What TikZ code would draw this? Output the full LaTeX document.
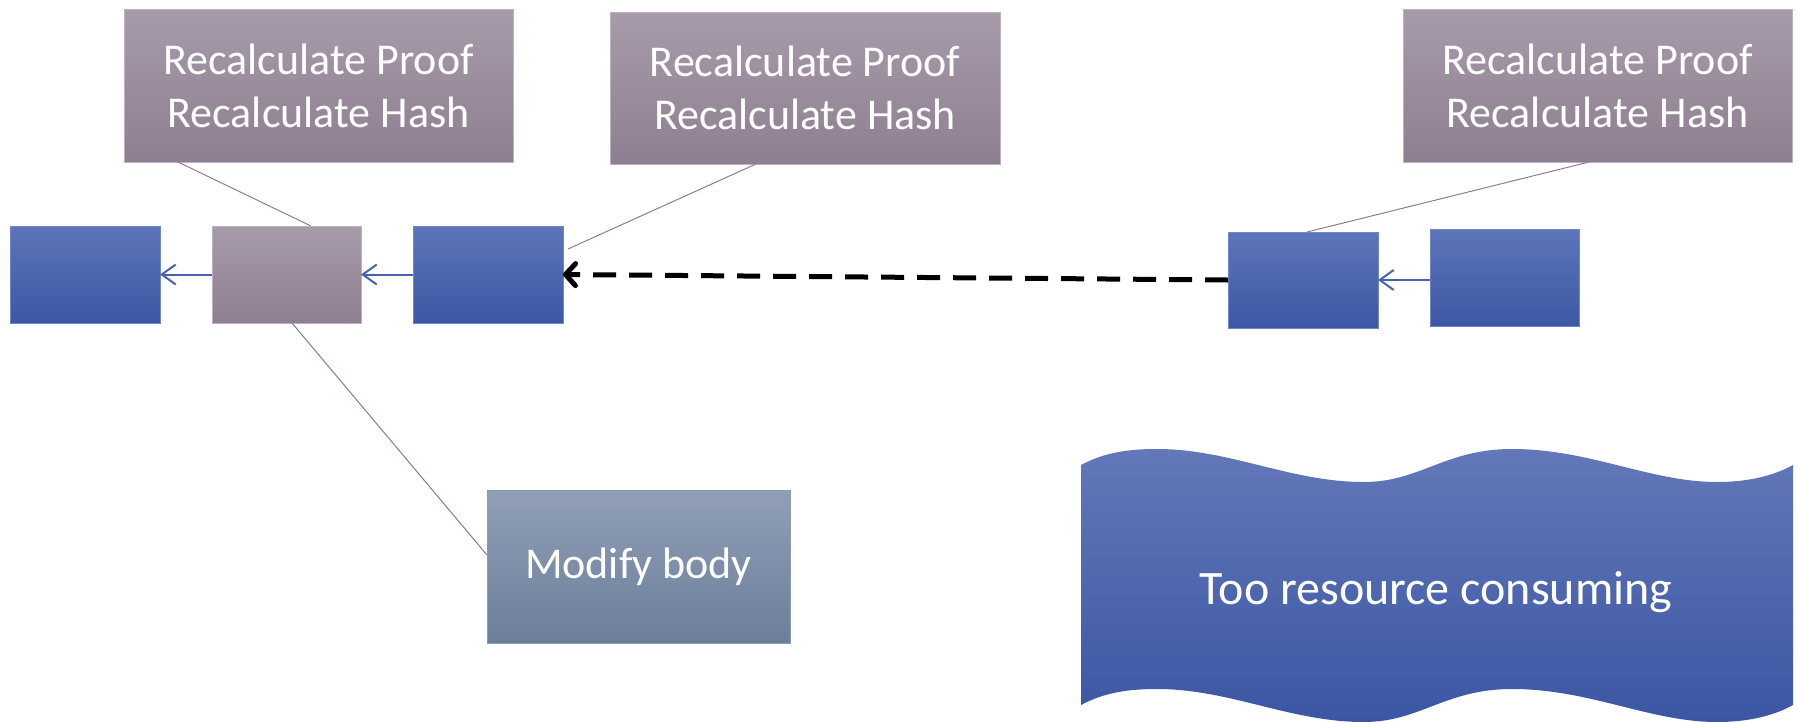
\documentclass[tikz,border=0pt]{standalone}
\usepackage{fontspec}
\setmainfont{Carlito}
\usetikzlibrary{arrows.meta}
\definecolor{mauveT}{HTML}{A79BAA}
\definecolor{mauveB}{HTML}{8E7E91}
\definecolor{mauveL}{HTML}{BDB3C0}
\definecolor{blueT}{HTML}{5D75B9}
\definecolor{blueB}{HTML}{3C58A4}
\definecolor{blueL}{HTML}{6F87C7}
\definecolor{modT}{HTML}{909FB7}
\definecolor{modB}{HTML}{6C7E9B}
\definecolor{modL}{HTML}{8C9BB5}
\definecolor{waveT}{HTML}{6378B9}
\definecolor{waveB}{HTML}{3B56A3}
\definecolor{calloutC}{HTML}{8C7F90}
\definecolor{modLine}{HTML}{6F82A3}
\definecolor{arrowC}{HTML}{4763AE}
\tikzset{
  base/.style={inner sep=0pt, outer sep=0pt, line width=1pt, text=white, align=center,
    font=\fontsize{44}{53}\selectfont},
  mauvebox/.style={base, draw=mauveL, top color=mauveT, bottom color=mauveB},
  bluebox/.style={base, draw=blueL, top color=blueT, bottom color=blueB},
  modbox/.style={base, draw=modL, top color=modT, bottom color=modB},
  callout/.style={draw=calloutC, line width=1pt},
  modcallout/.style={draw=modLine, line width=1pt},
  linkarrow/.style={draw=arrowC, line width=2pt, -{Straight Barb[length=14pt,width=20pt]}},
  dasharrow/.style={draw=black, line width=5pt, dash pattern=on 23pt off 13pt,
    -{Straight Barb[length=10pt,width=22pt,round]}},
}
\begin{document}
\begin{tikzpicture}[x=1pt,y=-1pt]
\useasboundingbox (0,0) rectangle (1797,721);
% callout boxes
\node[mauvebox, minimum width=389pt, minimum height=153pt] (box1) at (318.5,85.5) {Recalculate Proof\\Recalculate Hash};
\node[mauvebox, minimum width=390pt, minimum height=152pt] (box2) at (805,88) {Recalculate Proof\\Recalculate Hash};
\node[mauvebox, minimum width=389pt, minimum height=153pt] (box3) at (1597.5,85.5) {Recalculate Proof\\Recalculate Hash};
% chain blocks
\node[bluebox, minimum width=150pt, minimum height=97pt] (A) at (85,274.5) {};
\node[mauvebox, minimum width=149pt, minimum height=97pt] (B) at (286.5,274.5) {};
\node[bluebox, minimum width=150pt, minimum height=97pt] (C) at (488,274.5) {};
\node[bluebox, minimum width=150pt, minimum height=96pt] (D) at (1303,280) {};
\node[bluebox, minimum width=149pt, minimum height=97pt] (E) at (1504.5,277.5) {};
% modify body
\node[modbox, minimum width=303pt, minimum height=153pt] (mod) at (638.5,566.5) {Modify body};
% wave
\path[top color=waveT, bottom color=waveB]
  (1081,465) .. controls (1105,452) and (1130,449) .. (1157,449)
  .. controls (1230,449) and (1290,482) .. (1364,482)
  .. controls (1420,482) and (1445,449) .. (1512,449)
  .. controls (1590,449) and (1650,482) .. (1717,482)
  .. controls (1750,482) and (1775,475) .. (1793,465)
  -- (1793,705)
  .. controls (1775,715) and (1750,722) .. (1717,722)
  .. controls (1650,722) and (1590,689) .. (1512,689)
  .. controls (1445,689) and (1420,722) .. (1364,722)
  .. controls (1290,722) and (1230,689) .. (1157,689)
  .. controls (1130,689) and (1105,692) .. (1081,705)
  -- cycle;
\node[base, font=\fontsize{48}{56}\selectfont] (wave) at (1436,592) {Too resource consuming};
% callout lines
\draw[callout] ([xshift=54pt]box1.south west) -- ([xshift=99pt]B.north west);
\draw[callout] ([xshift=146pt]box2.south west) -- ([xshift=5pt,yshift=-23pt]C.north east);
\draw[callout] ([xshift=186pt]box3.south west) -- ([xshift=79pt]D.north west);
\draw[modcallout] ([xshift=80pt]B.south west) -- ([yshift=-65pt]mod.north west);
% chain arrows
\draw[linkarrow] (B.west) -- (A.east);
\draw[linkarrow] (C.west) -- (B.east);
\draw[linkarrow] (D.east -| E.west) -- (D.east);
\draw[dasharrow] (D.west) -- (C.east);
\end{tikzpicture}
\end{document}
